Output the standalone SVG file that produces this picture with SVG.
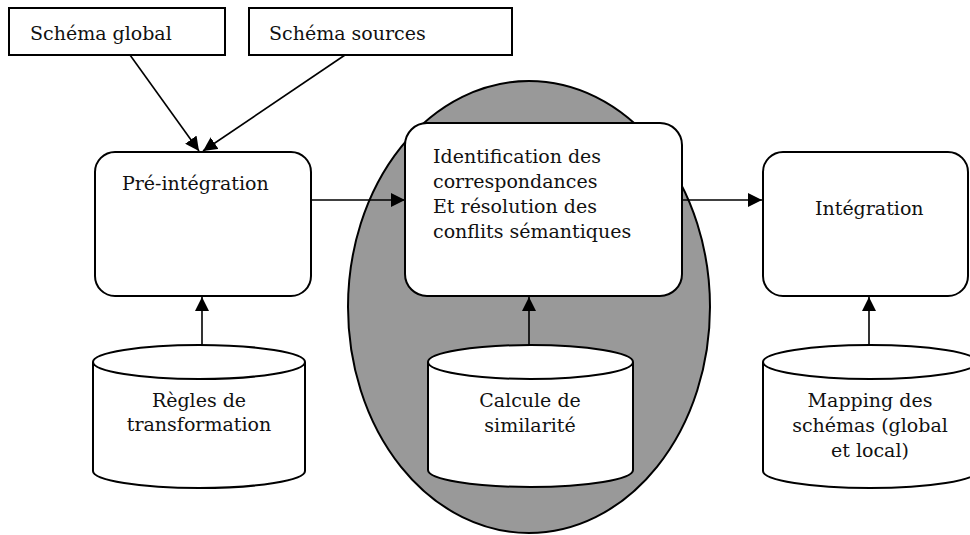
<svg xmlns="http://www.w3.org/2000/svg" width="970" height="535" viewBox="0 0 970 535">
  <style>
    .lbl { font-family: "DejaVu Serif", "Liberation Serif", serif; font-size: 19px; fill: #111; }
    .mid { text-anchor: middle; }
    .box { fill: #fff; stroke: #000; stroke-width: 2; }
    .cyl { fill: #fff; stroke: #000; stroke-width: 2; }
    .edge { fill: none; stroke: #000; stroke-width: 1.6; }
  </style>
  <defs>
    <marker id="arrow" viewBox="0 0 14 14" refX="14" refY="7" markerWidth="14" markerHeight="14" markerUnits="userSpaceOnUse" orient="auto">
      <path d="M0,0 L14,7 L0,14 Z" fill="#000"/>
    </marker>
  </defs>

  <rect width="970" height="535" fill="#fff"/>

  <!-- shaded zone behind the matching step -->
  <g id="zone-similarite">
    <ellipse cx="529" cy="307" rx="181" ry="226" fill="#999" stroke="#000" stroke-width="2"/>
  </g>

  <g id="schema-global">
    <rect class="box" x="9" y="8" width="216" height="47"/>
    <text class="lbl" x="30" y="40">Schéma global</text>
  </g>

  <g id="schema-sources">
    <rect class="box" x="249" y="8" width="263" height="47"/>
    <text class="lbl" x="269" y="40">Schéma sources</text>
  </g>

  <g id="pre-integration">
    <rect class="box" x="95" y="152" width="216" height="144" rx="20" ry="20"/>
    <text class="lbl" x="122" y="190">Pré-intégration</text>
  </g>

  <g id="identification">
    <rect class="box" x="405" y="123" width="277" height="173" rx="22" ry="22"/>
    <text class="lbl" x="433" y="163">Identification des</text>
    <text class="lbl" x="433" y="188">correspondances</text>
    <text class="lbl" x="433" y="213">Et résolution des</text>
    <text class="lbl" x="433" y="238">conflits sémantiques</text>
  </g>

  <g id="integration">
    <rect class="box" x="763" y="152" width="205" height="144" rx="20" ry="20"/>
    <text class="lbl" x="815" y="215">Intégration</text>
  </g>

  <g id="regles-transformation">
    <path class="cyl" d="M93,362 A106,17 0 0 1 305,362 V471 A106,17 0 0 1 93,471 Z"/>
    <path class="cyl" fill="none" d="M93,362 A106,17 0 0 0 305,362"/>
    <text class="lbl mid" x="199" y="407">Règles de</text>
    <text class="lbl mid" x="199" y="431">transformation</text>
  </g>

  <g id="calcule-similarite">
    <path class="cyl" d="M428,362 A102.5,17 0 0 1 633,362 V470 A102.5,17 0 0 1 428,470 Z"/>
    <path class="cyl" fill="none" d="M428,362 A102.5,17 0 0 0 633,362"/>
    <text class="lbl mid" x="530" y="407">Calcule de</text>
    <text class="lbl mid" x="530" y="432">similarité</text>
  </g>

  <g id="mapping-schemas">
    <path class="cyl" d="M763,362 A107,17 0 0 1 977,362 V471 A107,17 0 0 1 763,471 Z"/>
    <path class="cyl" fill="none" d="M763,362 A107,17 0 0 0 977,362"/>
    <text class="lbl mid" x="870" y="407">Mapping des</text>
    <text class="lbl mid" x="870" y="432">schémas (global</text>
    <text class="lbl mid" x="870" y="457">et local)</text>
  </g>

  <g id="connectors">
    <line class="edge" x1="130" y1="55" x2="199" y2="151" marker-end="url(#arrow)"/>
    <line class="edge" x1="345" y1="55" x2="203" y2="151" marker-end="url(#arrow)"/>
    <line class="edge" x1="311" y1="200" x2="405" y2="200" marker-end="url(#arrow)"/>
    <line class="edge" x1="682" y1="200" x2="762" y2="200" marker-end="url(#arrow)"/>
    <line class="edge" x1="202" y1="345" x2="202" y2="297" marker-end="url(#arrow)"/>
    <line class="edge" x1="529" y1="345" x2="529" y2="297" marker-end="url(#arrow)"/>
    <line class="edge" x1="869" y1="345" x2="869" y2="297" marker-end="url(#arrow)"/>
  </g>
</svg>
